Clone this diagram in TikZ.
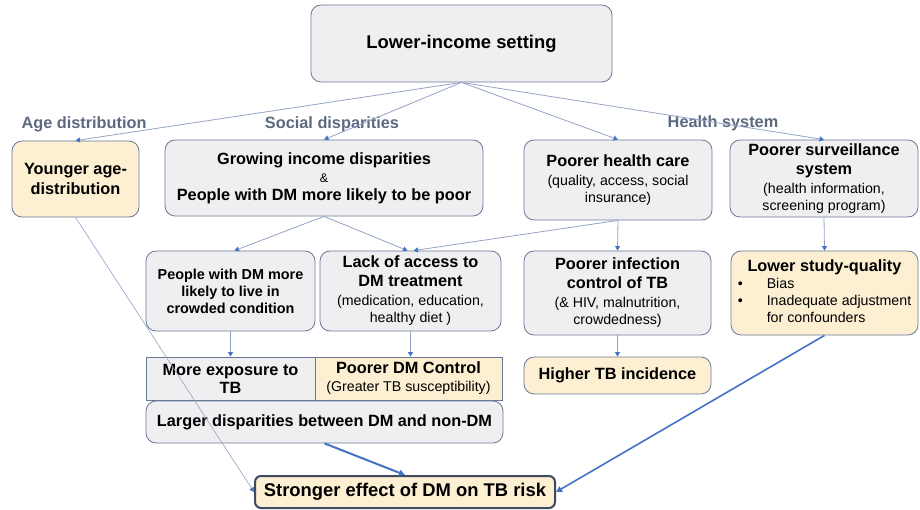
\documentclass[tikz,border=0pt]{standalone}
\usepackage{fontspec}
\setmainfont{Liberation Sans}
\usetikzlibrary{arrows.meta, positioning, calc}

\definecolor{boxgray}{HTML}{EFEFF2}
\definecolor{boxtan}{HTML}{FCEFD2}
\definecolor{edgeblue}{HTML}{6A7896}
\definecolor{edgedark}{HTML}{3E4A62}
\definecolor{linkblue}{HTML}{94A2C6}
\definecolor{tipblue}{HTML}{4472C4}
\definecolor{labgray}{HTML}{5B6A7E}

\newcommand{\bigtxt}{\fontsize{18.4}{22}\selectfont\bfseries}
\newcommand{\boxtxt}{\fontsize{16.3}{19}\selectfont\bfseries}
\newcommand{\crowdtxt}{\fontsize{14.4}{17}\selectfont\bfseries}
\newcommand{\subtxt}{\fontsize{14.2}{17}\selectfont\mdseries}
\newcommand{\andtxt}{\fontsize{12.5}{12.5}\selectfont\mdseries}

\tikzset{
  gbox/.style={draw=edgeblue, fill=boxgray, rounded corners=10pt, align=center, inner sep=2pt, line width=0.8pt, font=\boxtxt},
  ybox/.style={gbox, fill=boxtan},
  sqbox/.style={gbox, rounded corners=0pt},
  cat/.style={text=labgray, font=\boxtxt},
  link/.style={draw=linkblue, line width=0.8pt, -{Triangle[length=4.5pt, width=5pt, color=tipblue]}},
  heavy/.style={draw=tipblue, line width=2pt, -{Triangle[length=6pt, width=6pt]}},
}

\begin{document}
\begin{tikzpicture}[x=1pt, y=-1pt]
      \useasboundingbox (0,0) rectangle (920,510);

      % Top level
      \node[gbox, font=\bigtxt, minimum width=301pt, minimum height=77pt] (top) at (461.5,43.5) {Lower-income setting};

      % Category labels
      \node[cat] (agelab) at (84,124) {Age distribution};
      \node[cat] (soclab) at (332,124) {Social disparities};
      \node[cat] (heallab) at (723,123) {Health system};

      % Second row
      \node[ybox, minimum width=127pt, minimum height=76pt] (young) at (75.5,179)
          {Younger age-\\[1pt]distribution};
      \node[gbox, minimum width=318pt, minimum height=76pt] (grow) at (324,178)
          {Growing income disparities\\[-1pt]{\andtxt\&}\\[-1pt]People with DM more likely to be poor};
      \node[gbox, minimum width=188pt, minimum height=80pt] (care) at (618,180)
          {Poorer health care\\{\subtxt (quality, access, social}\\[-2pt]{\subtxt insurance)}};
      \node[gbox, minimum width=188pt, minimum height=77pt] (surv) at (824,178.5)
          {Poorer surveillance\\system\\{\subtxt (health information,}\\[-2pt]{\subtxt screening program)}};

      % Third row
      \node[gbox, font=\crowdtxt, minimum width=169pt, minimum height=80pt] (crowd) at (230.5,291)
          {People with DM more\\likely to live in\\crowded condition};
      \node[gbox, minimum width=181pt, minimum height=80pt] (lack) at (410.5,291)
          {Lack of access to\\DM treatment\\{\subtxt (medication, education,}\\[-2pt]{\subtxt healthy diet )}};
      \node[gbox, minimum width=187pt, minimum height=84pt] (infect) at (617.5,293)
          {Poorer infection\\control of TB\\{\subtxt (\& HIV, malnutrition,}\\[-2pt]{\subtxt crowdedness)}};
      \node[ybox, minimum width=187pt, minimum height=84pt] (study) at (824.5,293)
          {\begin{tabular}{@{}p{29pt}@{}l@{}}
             \multicolumn{2}{c}{Lower study-quality}\\[-2pt]
             \subtxt\textbullet & \subtxt Bias\\[-2pt]
             \subtxt\textbullet & \subtxt Inadequate adjustment\\[-2pt]
             & \subtxt for confounders
           \end{tabular}};

      % Fourth row
      \node[sqbox, minimum width=169pt, minimum height=43pt] (expo) at (230.5,378.5)
          {More exposure to\\[-1pt]TB};
      \node[sqbox, fill=boxtan, minimum width=187pt, minimum height=43pt] (ctrl) at (408.5,378.5)
          {Poorer DM Control\\[-1pt]{\subtxt (Greater TB susceptibility)}};
      \node[gbox, minimum width=357pt, minimum height=42pt] (larger) at (324.5,422)
          {Larger disparities between DM and non-DM};
      \node[ybox, minimum width=187pt, minimum height=37pt] (incid) at (617.5,375.5)
          {Higher TB incidence};

      % Outcome
      \node[ybox, font=\bigtxt, draw=edgedark, line width=2pt, rounded corners=6pt, minimum width=300pt, minimum height=32pt] (effect) at (405,492)
          {Stronger effect of DM on TB risk};

      % Links from the setting
      \foreach \target in {young, grow, care, surv} {
          \draw[link] (top.south) -- (\target.north);
      }

      % Links between rows
      \draw[link] (grow.south) -- ([xshift=4pt]crowd.north);
      \draw[link] (grow.south) -- ([xshift=-3pt]lack.north);
      \draw[link] (care.south) -- ([xshift=3pt]lack.north);
      \foreach \from/\to in {care/infect, surv/study, crowd/expo, infect/incid} {
          \draw[link] (\from.south) -- (\to.north);
      }
      \draw[link] (lack.south) -- (lack.south |- ctrl.north);

      % Links to the outcome
      \draw[link, line width=0.6pt] (young.south) -- (effect.west);
      \draw[heavy] (larger.south) -- (effect.north);
      \draw[heavy, line width=1.6pt] (study.south) -- (effect.east);
\end{tikzpicture}
\end{document}
